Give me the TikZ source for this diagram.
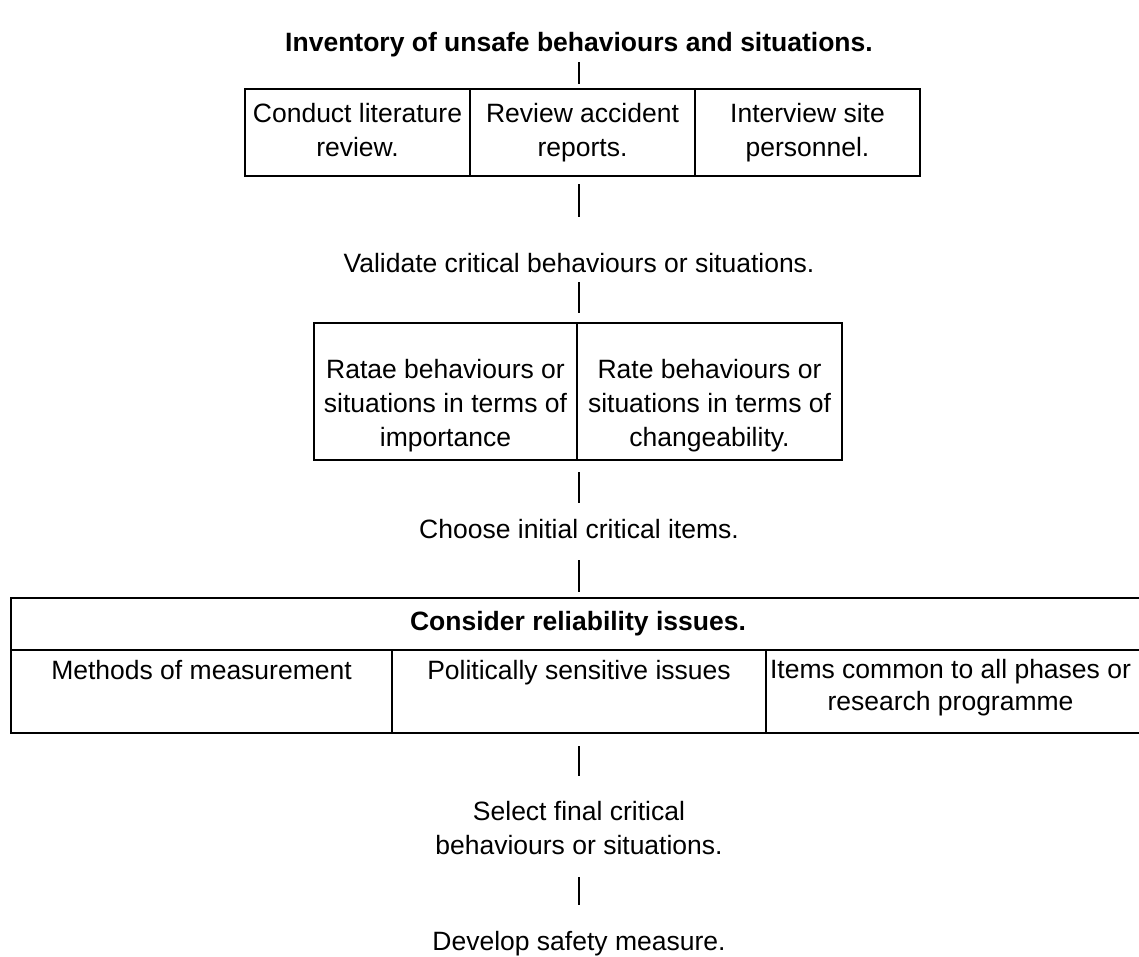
\documentclass[tikz,border=0pt]{standalone}
\usepackage{fontspec}
\setmainfont{Liberation Sans}
\begin{document}
\begin{tikzpicture}[x=1pt,y=-1pt,
  every node/.style={inner sep=0pt, outer sep=0pt, font=\fontsize{26.5}{34}\selectfont},
  cellbox/.style={draw, line width=2.6pt},
  lbl/.style={align=center},
  conn/.style={line width=1.8pt}]
\useasboundingbox (0,0) rectangle (1139,956);

% title
\node[lbl, font=\fontsize{26.5}{34}\selectfont\bfseries] (title) at (579,44.2) {\strut Inventory of unsafe behaviours and situations.};

% row 1
\node[cellbox, minimum width=225pt, minimum height=87pt] (a1) at (357.5,132.5) {};
\node[cellbox, minimum width=225pt, minimum height=87pt] (a2) at (582.5,132.5) {};
\node[cellbox, minimum width=225pt, minimum height=87pt] (a3) at (807.5,132.5) {};
\node[lbl] (a1t) at (a1.center) {\strut Conduct literature\\\strut review.};
\node[lbl] (a2t) at (a2.center) {\strut Review accident\\\strut reports.};
\node[lbl] (a3t) at (a3.center) {\strut Interview site\\\strut personnel.};

\node[lbl] (valid) at (579,265.2) {\strut Validate critical behaviours or situations.};

% row 2
\node[cellbox, minimum width=263pt, minimum height=137pt] (b1) at (445.5,391.5) {};
\node[cellbox, minimum width=265pt, minimum height=137pt] (b2) at (709.5,391.5) {};
\node[lbl] (b1t) at ([yshift=-13.7pt]b1.center) {\strut Ratae behaviours or\\\strut situations in terms of\\\strut importance};
\node[lbl] (b2t) at ([yshift=-13.7pt]b2.center) {\strut Rate behaviours or\\\strut situations in terms of\\\strut changeability.};

\node[lbl] (choose) at (579,531.2) {\strut Choose initial critical items.};

% reliability table
\node[cellbox, minimum width=1134pt, minimum height=52pt, font=\fontsize{26.5}{34}\selectfont\bfseries] (hd) at (578,624) {\strut Consider reliability issues.};
\node[cellbox, minimum width=381pt, minimum height=83pt] (m1) at (201.5,691.5) {};
\node[cellbox, minimum width=374pt, minimum height=83pt] (m2) at (579,691.5) {};
\node[cellbox, minimum width=379pt, minimum height=83pt] (m3) at (955.5,691.5) {};
\node[lbl, anchor=north] (m1t) at ([yshift=-6pt]m1.north) {\strut Methods of measurement};
\node[lbl, anchor=north] (m2t) at ([yshift=-6pt]m2.north) {\strut Politically sensitive issues};
\node[lbl, anchor=north, font=\fontsize{26.5}{32}\selectfont] (m3t) at ([xshift=-5pt,yshift=-6pt]m3.north) {\strut Items common to all phases or\\\strut research programme};

\node[lbl] (select) at (579,830.2) {\strut Select final critical\\\strut behaviours or situations.};
\node[lbl] (develop) at (579,943.2) {\strut Develop safety measure.};

% connectors
\draw[conn, shorten <=1pt, shorten >=5pt] (title.south) -- (title.south |- a2.north);
\draw[conn, shorten <=8pt, shorten >=31pt] (a2.south -| valid.north) -- (valid.north);
\draw[conn, shorten >=10pt] (valid.south) -- (valid.south |- b1.north);
\draw[conn, shorten <=12pt, shorten >=11pt] (b1.south -| choose.north) -- (choose.north);
\draw[conn, shorten <=12pt, shorten >=6pt] (choose.south) -- (choose.south |- hd.north);
\draw[conn, shorten <=13pt, shorten >=20pt] (m2.south -| select.north) -- (select.north);
\draw[conn, shorten <=13pt, shorten >=21pt] (select.south) -- (develop.north);
\end{tikzpicture}
\end{document}
